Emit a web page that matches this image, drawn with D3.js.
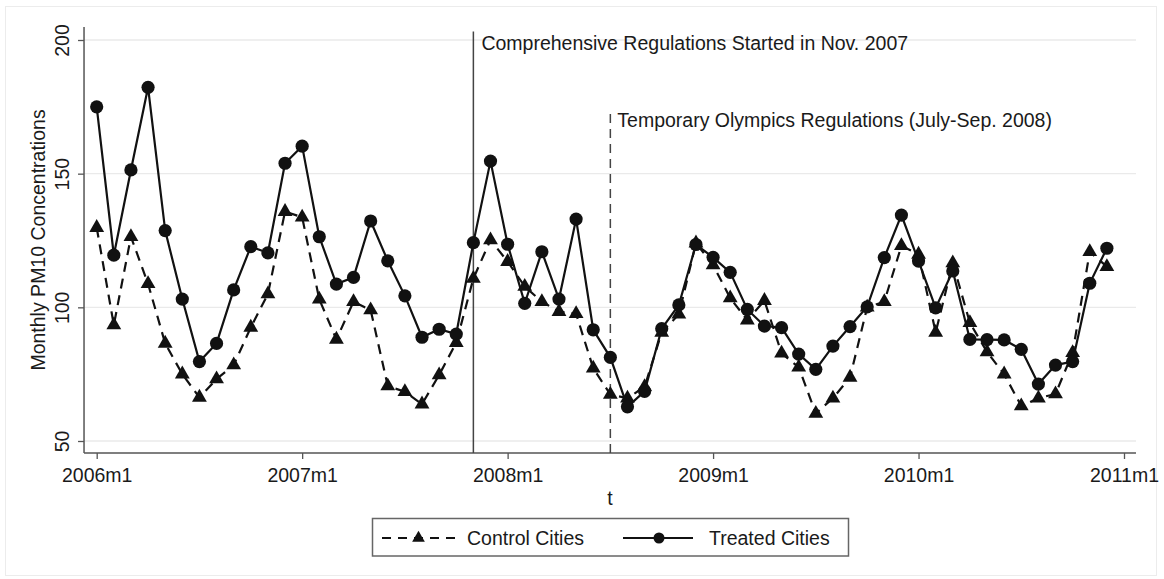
<!DOCTYPE html>
<html>
<head>
<meta charset="utf-8">
<script src="https://cdn.jsdelivr.net/npm/d3@7"></script>
<style>
  html, body { margin: 0; padding: 0; background: #ffffff; }
  svg { display: block; }
  text { font-family: "Liberation Sans", Arial, Helvetica, sans-serif; fill: #1a1a1a; }
</style>
</head>
<body>
<svg id="chart" width="1164" height="579"></svg>
<script>
// ---- data ----
const months = d3.range(60); // 2006m1 .. 2010m12 (index 0..59)
const treated = [175, 119.5, 151.4, 182.3, 128.7, 103.1, 79.7, 86.5, 106.5, 122.7,
  120.4, 153.9, 160.3, 126.4, 108.7, 111.2, 132.3, 117.4, 104.3, 88.8,
  91.8, 90, 124.2, 154.7, 123.6, 101.5, 120.8, 103.1, 133, 91.6,
  81.3, 62.8, 68.6, 92, 100.9, 123.5, 118.7, 113.1, 99.2, 93,
  92.4, 82.5, 76.8, 85.5, 92.8, 100.2, 118.6, 134.5, 117.3, 99.8,
  113.6, 88, 87.9, 87.8, 84.3, 71.3, 78.4, 79.7, 109, 122.1];
const control = [129.8, 93.4, 126.4, 108.8, 86.5, 75, 66.3, 73.2, 78.4, 92.5,
  105, 135.8, 133.7, 103, 88, 102.1, 99, 70.6, 68.4, 63.8,
  74.7, 86.8, 110.8, 125.2, 117.1, 107.8, 102.1, 98.4, 97.6, 77.2,
  67.4, 66, 70.3, 90.6, 97.4, 124, 115.8, 103.5, 95.2, 102.5,
  82.8, 77.6, 60.3, 66, 73.8, 100, 102.1, 123, 119.8, 90.6,
  116.6, 94.2, 83.3, 75, 63.1, 66, 67.6, 83, 120.8, 115.2];
const xTickValues = [0, 12, 24, 36, 48, 60];
const xTickLabels = ["2006m1", "2007m1", "2008m1", "2009m1", "2010m1", "2011m1"];
const yTickValues = [50, 100, 150, 200];
const eventMonths = [22, 30]; // 2007m11, 2008m7
const eventLabels = ["Comprehensive Regulations Started in Nov. 2007",
                     "Temporary Olympics Regulations (July-Sep. 2008)"];
const seriesNames = ["Control Cities", "Treated Cities"];
const xTitle = "t";
const yTitle = "Monthly PM10 Concentrations";

// ---- scales ----
const svg = d3.select("#chart");
const x = d3.scaleLinear().domain([0, 60]).range([96.7, 1124]);
const y = d3.scaleLinear().domain([50, 200]).range([441, 40]);
const xMin = -0.74, xMax = 60.7, yMin = 45.5, yMax = 204.9;
const fs = "19.5px";

// outer graph region border
svg.append("rect").attr("x", 5.5).attr("y", 6.5).attr("width", 1151).attr("height", 569)
  .attr("fill", "#ffffff").attr("stroke", "#ececec").attr("stroke-width", 1);

// gridlines
svg.append("g").selectAll("line").data(yTickValues).join("line")
  .attr("x1", x(xMin)).attr("x2", x(xMax))
  .attr("y1", d => y(d)).attr("y2", d => y(d))
  .attr("stroke", "#eaeaea").attr("stroke-width", 1.3);

// y axis
const yAxis = svg.append("g").attr("transform", `translate(${x(xMin)},0)`)
  .call(d3.axisLeft(y).tickValues(yTickValues).tickSize(6).tickSizeOuter(0).tickFormat(d3.format("d")));
yAxis.select(".domain").remove();
yAxis.selectAll(".tick line").attr("stroke", "#555").attr("stroke-width", 1.3);
yAxis.selectAll(".tick text")
  .attr("x", null).attr("dy", null)
  .attr("text-anchor", "middle")
  .attr("dominant-baseline", "central")
  .attr("transform", "translate(-22,0) rotate(-90)")
  .style("font-size", fs).style("fill", "#1a1a1a");
svg.append("line").attr("x1", x(xMin)).attr("x2", x(xMin))
  .attr("y1", y(yMin)).attr("y2", y(yMax)).attr("stroke", "#555").attr("stroke-width", 1.5);

// x axis
const xAxis = svg.append("g").attr("transform", `translate(0,${y(yMin)})`)
  .call(d3.axisBottom(x).tickValues(xTickValues).tickSize(6).tickSizeOuter(0)
    .tickFormat((d, i) => xTickLabels[i]));
xAxis.select(".domain").remove();
xAxis.selectAll(".tick line").attr("stroke", "#555").attr("stroke-width", 1.3);
xAxis.selectAll(".tick text").attr("y", 29).attr("dy", null)
  .style("font-size", fs).style("fill", "#1a1a1a");
svg.append("line").attr("x1", x(xMin)).attr("x2", x(xMax))
  .attr("y1", y(yMin)).attr("y2", y(yMin)).attr("stroke", "#555").attr("stroke-width", 1.5);

// axis titles
svg.append("text").attr("x", (x(xMin) + x(xMax)) / 2).attr("y", 505)
  .attr("text-anchor", "middle").style("font-size", fs).text(xTitle);
svg.append("text").attr("transform", `translate(38,${(y(yMin) + y(yMax)) / 2}) rotate(-90)`)
  .attr("text-anchor", "middle").attr("dominant-baseline", "central")
  .style("font-size", fs).text(yTitle);

// event lines
svg.append("line").attr("x1", x(eventMonths[0])).attr("x2", x(eventMonths[0]))
  .attr("y1", y(yMin)).attr("y2", y(203.2)).attr("stroke", "#444").attr("stroke-width", 1.5);
svg.append("line").attr("x1", x(eventMonths[1])).attr("x2", x(eventMonths[1]))
  .attr("y1", y(yMin)).attr("y2", y(172.3)).attr("stroke", "#444").attr("stroke-width", 1.5)
  .attr("stroke-dasharray", "9,6");
svg.append("text").attr("x", x(eventMonths[0]) + 8).attr("y", y(196.4))
  .style("font-size", fs).text(eventLabels[0]);
svg.append("text").attr("x", x(eventMonths[1]) + 7).attr("y", y(167.3))
  .style("font-size", fs).text(eventLabels[1]);

// series lines
const line = d3.line().x((d, i) => x(months[i])).y(d => y(d));
svg.append("path").datum(control).attr("d", line)
  .attr("fill", "none").attr("stroke", "#111").attr("stroke-width", 2.2)
  .attr("stroke-dasharray", "10,7");
svg.append("path").datum(treated).attr("d", line)
  .attr("fill", "none").attr("stroke", "#111").attr("stroke-width", 2.2);

// markers
const tri = d3.symbol().type(d3.symbolTriangle).size(95);
svg.append("g").selectAll("path").data(control).join("path")
  .attr("d", tri).attr("fill", "#111")
  .attr("transform", (d, i) => `translate(${x(months[i])},${y(d)})`);
svg.append("g").selectAll("circle").data(treated).join("circle")
  .attr("cx", (d, i) => x(months[i])).attr("cy", d => y(d)).attr("r", 6.6)
  .attr("fill", "#111");

// legend
const lg = svg.append("g");
lg.append("rect").attr("x", 372.5).attr("y", 518.5).attr("width", 476).attr("height", 37.5)
  .attr("fill", "#fff").attr("stroke", "#666").attr("stroke-width", 1.5);
const ly = 538;
lg.append("line").attr("x1", 382).attr("x2", 457).attr("y1", ly).attr("y2", ly)
  .attr("stroke", "#111").attr("stroke-width", 2).attr("stroke-dasharray", "9,7");
lg.append("path").attr("d", d3.symbol().type(d3.symbolTriangle).size(70)).attr("fill", "#111")
  .attr("transform", `translate(418.5,${ly})`);
lg.append("text").attr("x", 467).attr("y", ly).attr("dominant-baseline", "central")
  .style("font-size", fs).text(seriesNames[0]);
lg.append("line").attr("x1", 623).attr("x2", 693).attr("y1", ly).attr("y2", ly)
  .attr("stroke", "#111").attr("stroke-width", 2);
lg.append("circle").attr("cx", 659).attr("cy", ly).attr("r", 5.5).attr("fill", "#111");
lg.append("text").attr("x", 709).attr("y", ly).attr("dominant-baseline", "central")
  .style("font-size", fs).text(seriesNames[1]);
</script>
</body>
</html>
